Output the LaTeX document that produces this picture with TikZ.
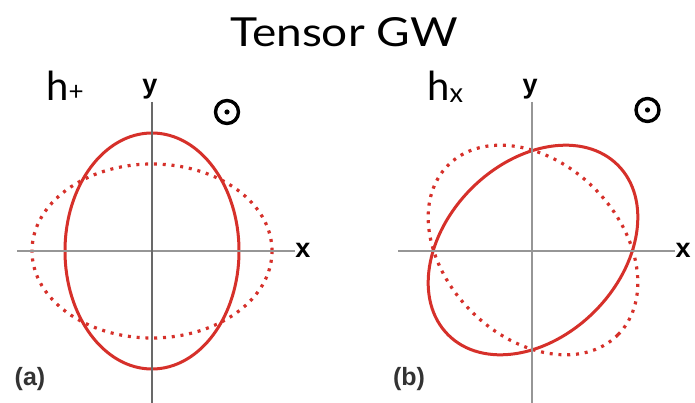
\documentclass[tikz,border=0pt]{standalone}
\usepackage{fontspec}
\setmainfont{Lato}
\newfontfamily\titlefont[FakeStretch=1.15]{Lato}
\newfontfamily\labfont{Liberation Sans}
\definecolor{wavered}{RGB}{214,48,42}
\definecolor{axisgray}{RGB}{150,150,150}
\definecolor{axisdark}{RGB}{105,105,105}
\begin{document}
\begin{tikzpicture}[x=1pt,y=-1pt,
  solidcurve/.style={draw=wavered,line width=3pt},
  dotcurve/.style={draw=wavered,line width=3.2pt,dash pattern=on 3pt off 5.8pt},
  axisline/.style={draw=axisgray,line width=2.2pt},
  axisthin/.style={draw=axisdark,line width=1.3pt},
  axlabel/.style={font=\labfont\bfseries\fontsize{27}{27}\selectfont,inner sep=0pt,anchor=base},
  panlabel/.style={font=\labfont\bfseries\fontsize{25}{25}\selectfont,text=black!80,inner sep=0pt},
  bigtext/.style={font=\titlefont\fontsize{40}{40}\selectfont,inner sep=0pt,anchor=base},
  htext/.style={font=\fontsize{40}{40}\selectfont,inner sep=0pt,anchor=base west},
  odot/.style={circle,draw=black,line width=3.4pt,minimum size=23pt,inner sep=0pt}
]
\useasboundingbox[fill=white] (0,0) rectangle (695,403);

% title
\node[bigtext] (title) at (344,47) {Tensor GW};
\node[htext] (hplus) at (46,101) {h\fontsize{26}{26}\selectfont +};
\node[htext] (hcross) at (427,101) {h\raisebox{-2pt}{\fontsize{27}{27}\selectfont x}};

% ---- panel (a)
\coordinate (ca) at (152,251);
\draw[solidcurve] (ca) ellipse [x radius=87, y radius=118];
\draw[dotcurve] (ca) ellipse [x radius=120, y radius=87];
\coordinate (ax0) at (17,251);
\coordinate (ax1) at (295,251);
\coordinate (ay0) at (152,102);
\coordinate (ay1) at (152,403);
\draw[axisline] (ax0) -- (ax1);
\draw[axisthin] (ay0) -- (ay1);
\node[axlabel] (ya) at (150,94) {y};
\node[axlabel] (xa) at (303,257) {x};
\node[panlabel] (pa) at (30,379) {(a)};
\node[odot] (oa) at (227,112) {};
\fill (oa.center) circle (2.6);

% ---- panel (b)
\coordinate (cb) at (533,250);
\draw[solidcurve,rotate around={45:(cb)}] (cb) ellipse [x radius=120, y radius=87];
\draw[dotcurve,rotate around={-45:(cb)}] (cb) ellipse [x radius=120, y radius=87];
\coordinate (bx0) at (398,251);
\coordinate (bx1) at (675,251);
\coordinate (by0) at (532,102);
\coordinate (by1) at (532,403);
\draw[axisline] (bx0) -- (bx1);
\draw[axisline] (by0) -- (by1);
\node[axlabel] (yb) at (530,94) {y};
\node[axlabel] (xb) at (683,257) {x};
\node[panlabel] (pb) at (409,379) {(b)};
\node[odot] (ob) at (647.5,110) {};
\fill (ob.center) circle (2.6);
\end{tikzpicture}
\end{document}
